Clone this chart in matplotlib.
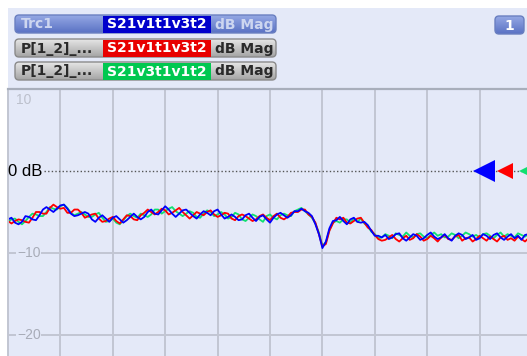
import numpy as np
import matplotlib
matplotlib.use("Agg")
import matplotlib.pyplot as plt
from matplotlib.patches import FancyBboxPatch, Rectangle
from matplotlib.colors import LinearSegmentedColormap

# Trace values in dB, 15 points per horizontal division
trc1_db = [-5.9, -5.7, -6.3, -6.5, -6.2, -5.5, -5.6, -5.9, -6.0, -5.4, -4.7, -4.4, -4.7, -5.0, -4.6, -4.2,
           -4.1, -4.6, -5.2, -5.5, -5.4, -5.2, -5.0, -5.2, -5.9, -6.2, -5.7, -5.4, -5.8, -6.2, -5.7, -5.5,
           -5.9, -6.3, -6.0, -5.6, -5.2, -5.6, -5.9, -5.6, -5.0, -4.7, -5.2, -5.3, -4.8, -4.3, -4.7, -5.2,
           -5.6, -5.2, -4.8, -4.7, -5.1, -5.5, -5.8, -5.3, -4.9, -5.1, -5.4, -4.9, -4.7, -5.3, -5.8, -5.6,
           -5.3, -5.6, -6.0, -5.9, -5.4, -5.2, -5.7, -6.1, -5.6, -5.4, -5.9, -6.3, -5.7, -5.3, -5.1, -5.4,
           -5.7, -5.4, -4.9, -4.9, -4.6, -4.9, -5.1, -5.5, -6.5, -7.7, -9.4, -8.6, -7.0, -6.1, -6.0, -5.6,
           -6.1, -6.5, -5.9, -5.7, -6.2, -6.3, -6.2, -6.6, -7.3, -7.9, -7.9, -8.1, -7.8, -8.3, -8.1, -7.7,
           -7.6, -8.2, -8.5, -8.1, -7.7, -7.9, -8.4, -8.2, -7.8, -7.5, -8.0, -8.3, -8.1, -7.7, -8.2, -8.5,
           -7.9, -7.6, -7.8, -8.3, -8.1, -7.8, -8.4, -8.2, -7.7, -7.9, -8.3, -7.8, -7.6, -8.1, -8.4, -8.0,
           -7.7, -8.2, -7.9, -8.4, -7.8, -7.7, -8.1]
trc2_db = [-6.1, -6.4, -6.1, -5.9, -6.0, -6.2, -6.3, -5.7, -5.0, -5.0, -5.2, -5.2, -4.5, -4.1, -4.4, -4.6,
           -4.5, -5.1, -5.1, -4.7, -4.7, -5.1, -5.7, -5.5, -5.3, -5.2, -5.8, -6.2, -6.1, -5.8, -5.6, -6.1,
           -6.4, -5.9, -5.4, -5.5, -5.9, -6.0, -5.4, -5.1, -4.7, -5.0, -5.3, -5.0, -4.6, -4.8, -5.3, -5.1,
           -4.8, -4.5, -5.0, -5.4, -5.8, -5.4, -5.0, -5.2, -5.4, -5.0, -4.8, -5.3, -5.6, -5.4, -5.1, -5.2,
           -5.8, -6.0, -5.5, -5.3, -5.5, -5.8, -6.1, -5.9, -5.5, -5.3, -5.7, -6.0, -5.5, -5.2, -5.7, -5.9,
           -5.6, -5.1, -5.0, -5.0, -4.7, -4.7, -5.3, -5.6, -6.3, -7.7, -9.2, -8.9, -7.3, -6.4, -5.7, -5.9,
           -5.7, -6.3, -6.4, -6.1, -5.8, -5.7, -6.3, -6.9, -7.2, -7.8, -8.3, -8.5, -8.4, -8.1, -7.8, -8.3,
           -8.6, -8.2, -7.9, -8.4, -8.2, -7.7, -8.0, -8.5, -8.3, -7.9, -8.2, -8.6, -8.1, -7.8, -8.3, -8.4,
           -8.0, -7.8, -8.5, -8.2, -8.1, -8.6, -8.3, -7.9, -8.2, -8.5, -8.0, -8.3, -8.6, -8.1, -7.9, -8.4,
           -8.2, -8.5, -8.0, -8.3, -8.6, -8.2, -8.4]
trc3_db = [-6.2, -5.9, -5.8, -6.2, -6.5, -6.1, -5.6, -5.2, -5.3, -5.5, -5.5, -5.0, -4.4, -4.6, -4.7, -4.3,
           -4.1, -4.5, -5.1, -5.4, -5.2, -5.0, -5.3, -5.6, -5.6, -5.3, -5.1, -5.7, -6.2, -6.1, -5.8, -6.3,
           -6.5, -6.0, -5.5, -5.2, -5.5, -5.7, -5.2, -5.4, -5.6, -5.3, -4.7, -4.7, -5.2, -4.9, -4.6, -4.4,
           -4.9, -5.2, -5.5, -5.2, -4.9, -5.1, -5.6, -5.7, -5.2, -4.8, -5.0, -5.5, -5.3, -5.0, -5.3, -5.8,
           -5.6, -5.1, -5.3, -5.9, -6.1, -5.7, -5.3, -5.5, -5.9, -6.2, -5.5, -5.3, -5.7, -5.9, -5.4, -5.2,
           -5.4, -5.5, -4.9, -4.7, -4.5, -4.9, -5.3, -5.7, -6.4, -7.5, -9.1, -8.7, -7.2, -6.3, -6.1, -6.3,
           -5.9, -5.9, -6.3, -5.8, -6.2, -5.8, -6.4, -6.7, -7.4, -7.7, -8.2, -8.1, -7.7, -7.9, -8.2, -7.6,
           -7.8, -8.0, -7.5, -7.9, -8.1, -7.7, -7.6, -8.0, -8.2, -7.8, -7.5, -7.9, -7.7, -8.1, -8.0, -7.6,
           -7.8, -8.2, -7.9, -7.5, -7.7, -8.0, -7.8, -8.1, -7.7, -7.6, -7.9, -8.2, -7.8, -7.5, -8.0, -7.7,
           -7.9, -8.1, -7.6, -7.8, -8.0, -7.7, -7.9]

trace_names = ["Trc1", "P[1_2]_...", "P[1_2]_..."]
param_names = ["S21v1t1v3t2", "S21v1t1v3t2", "S21v3t1v1t2"]
formats = ["dB Mag", "dB Mag", "dB Mag"]
trace_colors = ["#0000ff", "#ff0000", "#10e070"]
label_colors = ["#0000cc", "#e80000", "#00c850"]

y_ticks = [10, -10, -20]
ref_level = 0
n_div = 10

LAV = "#e4e9f8"

fig = plt.figure(figsize=(5.27, 3.56), dpi=100)

# pixel-space overlay for the panel background and the trace header
bg = fig.add_axes([0, 0, 1, 1])
bg.set_xlim(0, 527)
bg.set_ylim(356, 0)
bg.axis("off")
bg.add_patch(Rectangle((8, 8), 519, 348, facecolor=LAV, edgecolor="none"))


def gradient_box(ax, x0, y0, w, h, top, bottom, edge):
    box = FancyBboxPatch((x0, y0), w, h, boxstyle="round,pad=0,rounding_size=4",
                         facecolor="none", edgecolor=edge, lw=1.0, zorder=3)
    ax.add_patch(box)
    cmap = LinearSegmentedColormap.from_list("g", [top, bottom])
    im = ax.imshow(np.linspace(0, 1, 40).reshape(-1, 1), cmap=cmap,
                   extent=(x0, x0 + w, y0 + h, y0), aspect="auto", zorder=2)
    im.set_clip_path(box)


row_tops = [15, 39, 62]
row_h = 18
for i in range(3):
    y0 = row_tops[i]
    if i == 0:
        gradient_box(bg, 15, y0, 261, row_h, "#95a8e4", "#5a72c4", "#6a7fc0")
        side_txt = "#cdd6f0"
    else:
        gradient_box(bg, 15, y0, 261, row_h, "#e6e6e6", "#a4a4a4", "#8a8a8a")
        side_txt = "#2a2a2a"
    bg.add_patch(Rectangle((103, y0 + 0.5), 108, row_h - 1, facecolor=label_colors[i],
                           edgecolor="none", zorder=4))
    yc = y0 + row_h / 2 + 0.5
    bg.text(21, yc, trace_names[i], color=side_txt, fontsize=10, fontweight="bold",
            ha="left", va="center", zorder=5)
    bg.text(157, yc, param_names[i], color="white", fontsize=10, fontweight="bold",
            ha="center", va="center", zorder=5)
    bg.text(244, yc, formats[i], color=side_txt, fontsize=10, fontweight="bold",
            ha="center", va="center", zorder=5)

# channel number box
gradient_box(bg, 495, 16, 29, 18, "#95a8e4", "#5a72c4", "#6a7fc0")
bg.text(509.5, 25.5, "1", color="white", fontsize=10, fontweight="bold",
        ha="center", va="center", zorder=5)
bg.set_xlim(0, 527)
bg.set_ylim(356, 0)

# diagram area: 10 dB/div, top at +10 dB
px_per_db = 8.2
top_px = 89
ax = fig.add_axes([8 / 527, 0, 524 / 527, (356 - top_px) / 356])
ax.set_facecolor("none")
ax.set_xlim(0, n_div)
ax.set_ylim(10 - (356 - top_px) / px_per_db, 10)
ax.set_xticks(range(n_div + 1))
ax.set_yticks([v for v in y_ticks if v < 10 and v != ref_level])
ax.tick_params(length=0, labelleft=False, labelbottom=False)
ax.grid(True, color="#c2c6d2", lw=1.4)
for s in ["right", "bottom"]:
    ax.spines[s].set_visible(False)
ax.spines["top"].set_color("#a8aebb")
ax.spines["top"].set_linewidth(1.6)
ax.spines["left"].set_color("#c2c6d2")
ax.spines["left"].set_linewidth(1.4)

for v in y_ticks:
    if v == 10:
        ax.text(0.15, v - 0.45, str(v), color="#bcc0cc", fontsize=10,
                family="Liberation Sans", ha="left", va="top")
    else:
        ax.text(0.17, v, "\u2212" + str(-v) if v < 0 else str(v), color="#a8acb8",
                fontsize=10, family="Liberation Sans", ha="left", va="center",
                bbox=dict(facecolor=LAV, edgecolor="none", pad=0.5))

# reference line and level markers
ax.hlines(ref_level, 0.69, n_div, colors="#555555", lw=1.0, linestyles=(0, (1, 1.6)))
ax.text(0.0, ref_level, "0 dB", color="black", fontsize=12, family="Liberation Sans",
        ha="left", va="center")

ax.plot(np.linspace(0, n_div, len(trc3_db)), trc3_db, color=trace_colors[2], lw=1.3)
ax.plot(np.linspace(0, n_div, len(trc2_db)), trc2_db, color=trace_colors[1], lw=1.3)
ax.plot(np.linspace(0, n_div, len(trc1_db)), trc1_db, color=trace_colors[0], lw=1.3)

ax.plot(9.09, ref_level, marker="<", ms=16.5, color=trace_colors[0], mew=0, clip_on=False)
ax.plot(9.49, ref_level, marker="<", ms=11.5, color=trace_colors[1], mew=0, clip_on=False)
ax.plot(9.91, ref_level, marker="<", ms=11.5, color=trace_colors[2], mew=0, clip_on=False)

fig.savefig("out.png", dpi=100)
